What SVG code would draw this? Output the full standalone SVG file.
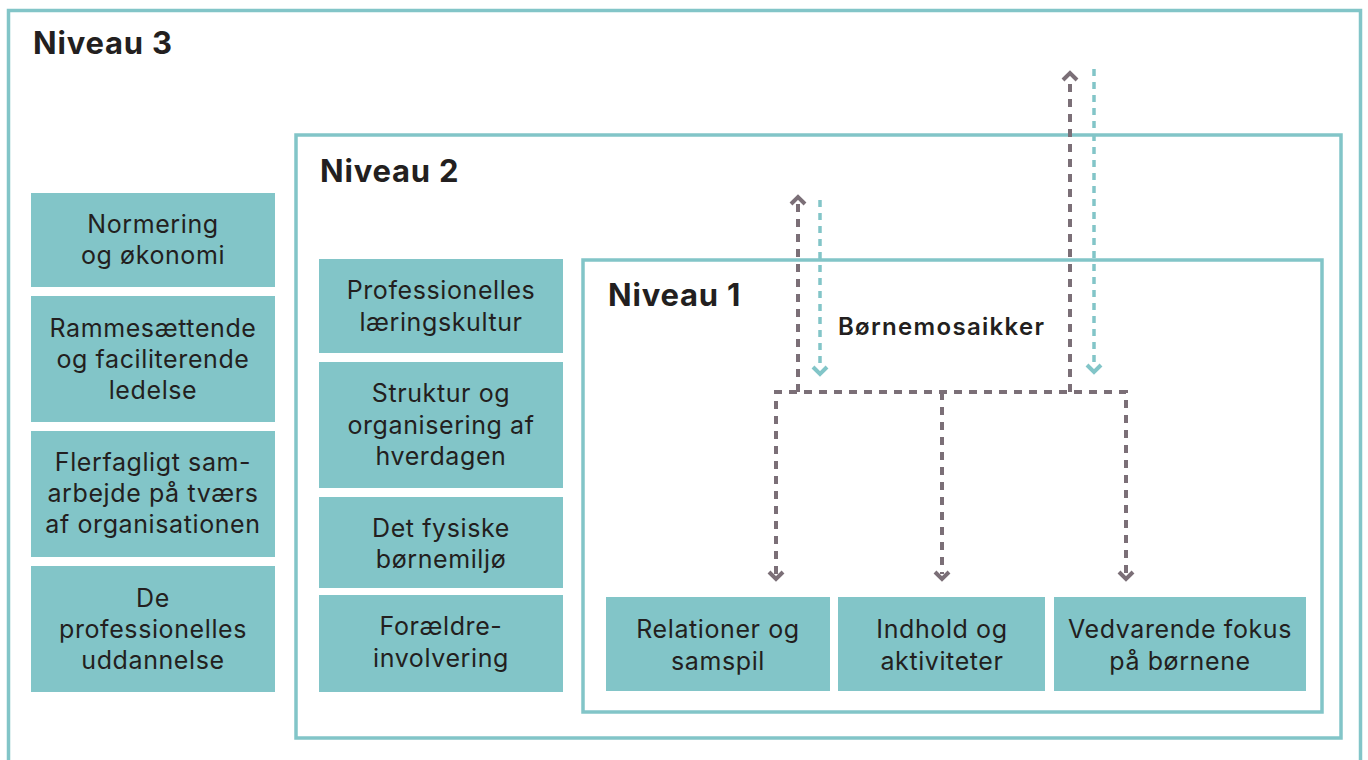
<svg xmlns="http://www.w3.org/2000/svg" width="1368" height="760" viewBox="0 0 1368 760">
<style>
.frame{fill:none;stroke:#82C5C8;stroke-width:3.5}
.box{fill:#82C5C8}
.t{font-family:Inter,"Open Sans",sans-serif;font-size:25px;letter-spacing:0.6px;fill:#231F20;text-anchor:middle}
.title{font-family:Inter,"Open Sans",sans-serif;font-size:31px;font-weight:bold;letter-spacing:0.8px;fill:#231F20}
.lab{font-family:Inter,"Open Sans",sans-serif;font-size:24px;font-weight:600;letter-spacing:1.3px;fill:#231F20}
.g{fill:none;stroke:#7B6F77;stroke-width:4;stroke-dasharray:8 7}
.c{fill:none;stroke:#82C5C8;stroke-width:3.5;stroke-dasharray:7 6}
.gh{fill:none;stroke:#7B6F77;stroke-width:4;stroke-linejoin:miter}
.ch{fill:none;stroke:#82C5C8;stroke-width:4}
</style>
<rect x="0" y="0" width="1368" height="760" fill="#fff"/>
<g id="niveau3">
<rect class="frame" x="8.5" y="10.5" width="1352" height="800"/>
<text class="title" x="33" y="54">Niveau 3</text>
</g>
<g id="niveau2">
<rect class="frame" x="296" y="135" width="1045" height="603"/>
<text class="title" x="320" y="182">Niveau 2</text>
</g>
<g id="niveau1">
<rect class="frame" x="583" y="260" width="739" height="452"/>
<text class="title" x="608" y="306">Niveau 1</text>
</g>
<g id="n3-normering"><rect class="box" x="31" y="193" width="244" height="94"/><text class="t"><tspan x="153" y="233">Normering</tspan><tspan x="153" y="264">og økonomi</tspan></text></g>
<g id="n3-rammesaettende"><rect class="box" x="31" y="296" width="244" height="126"/><text class="t"><tspan x="153" y="337">Rammesættende</tspan><tspan x="153" y="368">og faciliterende</tspan><tspan x="153" y="399">ledelse</tspan></text></g>
<g id="n3-flerfagligt"><rect class="box" x="31" y="431" width="244" height="126"/><text class="t"><tspan x="153" y="471">Flerfagligt sam-</tspan><tspan x="153" y="502">arbejde på tværs</tspan><tspan x="153" y="533">af organisationen</tspan></text></g>
<g id="n3-uddannelse"><rect class="box" x="31" y="566" width="244" height="126"/><text class="t"><tspan x="153" y="607">De</tspan><tspan x="153" y="638">professionelles</tspan><tspan x="153" y="669">uddannelse</tspan></text></g>
<g id="n2-laering"><rect class="box" x="319" y="259" width="244" height="94"/><text class="t"><tspan x="441" y="299">Professionelles</tspan><tspan x="441" y="331">læringskultur</tspan></text></g>
<g id="n2-struktur"><rect class="box" x="319" y="362" width="244" height="126"/><text class="t"><tspan x="441" y="402">Struktur og</tspan><tspan x="441" y="434">organisering af</tspan><tspan x="441" y="465">hverdagen</tspan></text></g>
<g id="n2-fysiske"><rect class="box" x="319" y="497" width="244" height="91"/><text class="t"><tspan x="441" y="537">Det fysiske</tspan><tspan x="441" y="568">børnemiljø</tspan></text></g>
<g id="n2-foraeldre"><rect class="box" x="319" y="595" width="244" height="97"/><text class="t"><tspan x="441" y="635">Forældre-</tspan><tspan x="441" y="667">involvering</tspan></text></g>
<g id="n1-relationer"><rect class="box" x="606" y="597" width="224" height="94"/><text class="t"><tspan x="718" y="638">Relationer og</tspan><tspan x="718" y="670">samspil</tspan></text></g>
<g id="n1-indhold"><rect class="box" x="838" y="597" width="207" height="94"/><text class="t"><tspan x="942" y="638">Indhold og</tspan><tspan x="942" y="670">aktiviteter</tspan></text></g>
<g id="n1-fokus"><rect class="box" x="1054" y="597" width="252" height="94"/><text class="t"><tspan x="1180" y="638">Vedvarende fokus</tspan><tspan x="1180" y="670">på børnene</tspan></text></g>
<g id="label-bornemosaikker"><text class="lab" x="838" y="335">Børnemosaikker</text></g>
<g id="connectors">
<path class="g" d="M776 574 V392 H1126 V574"/>
<path class="g" d="M942 392 V574"/>
<path class="g" d="M798 392 V202"/>
<path class="g" d="M1070 392 V78"/>
<path class="c" d="M820 200 V368"/>
<path class="c" d="M1094 69 V366"/>
<polyline class="gh" points="769,572 776,579 783,572"/>
<polyline class="gh" points="935,572 942,579 949,572"/>
<polyline class="gh" points="1119,572 1126,579 1133,572"/>
<polyline class="gh" points="791,204 798,197 805,204"/>
<polyline class="gh" points="1063,80 1070,73 1077,80"/>
<polyline class="ch" points="813,367 820,374 827,367"/>
<polyline class="ch" points="1087,365 1094,372 1101,365"/>
</g>
</svg>
